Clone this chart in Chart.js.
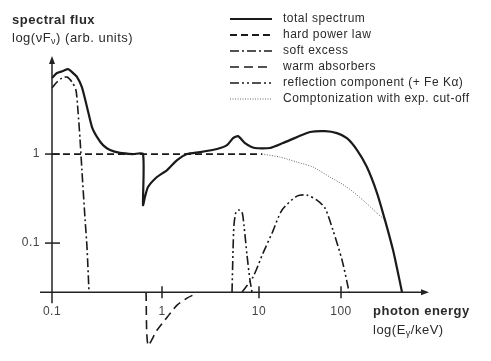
<!DOCTYPE html>
<html>
<head>
<meta charset="utf-8">
<script src="https://cdn.jsdelivr.net/npm/chart.js@4.4.1/dist/chart.umd.min.js"></script>
<style>
    html, body { margin: 0; padding: 0; background: #ffffff; }
    #grafico { display: block; }
</style>
</head>
<body>
<canvas id="grafico" width="491" height="361"></canvas>
<script>
// ==========================================
// DATA (photon energy in keV, flux in arb. units)
// ==========================================
const tickEnergies = [0.1, 1, 10, 100];
const tickLabels = ['0.1', '1', '10', '100'];
const fluxTicks = [1, 0.1];
const fluxTickLabels = ['1', '0.1'];
const baselineFlux = 0.0281;   // level where the energy axis is drawn

const legendLabels = [
    'total spectrum',
    'hard power law',
    'soft excess',
    'warm absorbers',
    'reflection component (+ Fe K\u03b1)',
    'Comptonization with exp. cut-off'
];

const totalEnergy = [0.1, 0.111, 0.126, 0.14, 0.152, 0.169, 0.187, 0.208, 0.231, 0.257, 0.291, 0.337, 0.415, 0.545, 0.672,
    0.672, 0.70, 0.746, 0.90, 1.13, 1.43, 1.81, 2.46, 3.69, 4.68, 5.40, 6.08, 7.17, 9.10, 13.6, 19.6, 29.0, 41.9, 63.8,
    89.3, 118, 157, 207, 275, 344, 431, 496, 555];
const totalFlux = [7.14, 8.13, 8.57, 9.02, 8.34, 7.33, 5.66, 3.38, 2.01, 1.55, 1.26, 1.11, 1.03, 1.0, 1.0,
    0.267, 0.329, 0.426, 0.552, 0.661, 0.856, 1.0, 1.05, 1.14, 1.26, 1.51, 1.59, 1.33, 1.17, 1.17, 1.33, 1.55, 1.77, 1.81,
    1.72, 1.51, 1.11, 0.714, 0.365, 0.181, 0.0834, 0.046, 0.0281];

const powerLawEnergy = [0.1, 10.9];
const powerLawFlux = [1, 1];

const softEnergy = [0.1, 0.111, 0.123, 0.137, 0.152, 0.165, 0.172, 0.18, 0.187, 0.20, 0.208, 0.217];
const softFlux = [5.52, 6.44, 7.14, 7.33, 6.44, 5.24, 3.12, 1.44, 0.661, 0.181, 0.0902, 0.0281];

const warmEnergy = [0.716, 0.746, 0.90, 1.13, 1.43, 1.81, 2.19];
const warmFlux = [0.0281, 0.00714, 0.0105, 0.0147, 0.0201, 0.0241, 0.0267];

// Fe K-alpha line, then (after a break) the Compton reflection hump
const reflEnergy = [5.27, 5.40, 5.52, 5.79, 6.22, 6.68, 7.0, 7.52, 8.07, 8.47, 8.47,
    6.68, 8.67, 11.2, 14.4, 19.1, 29.0, 38.5, 50.9, 63.8, 79.7, 103, 122, 125];
const reflFlux = [0.0281, 0.0834, 0.159, 0.223, 0.235, 0.223, 0.159, 0.0733, 0.0384, 0.0281, null,
    0.0281, 0.0415, 0.0772, 0.129, 0.235, 0.337, 0.346, 0.304, 0.247, 0.140, 0.0644, 0.0320, 0.0281];

const comptEnergy = [10.9, 18.0, 29.0, 45.6, 73.5, 118, 185, 275, 344];
const comptFlux = [1.0, 0.925, 0.813, 0.714, 0.551, 0.426, 0.304, 0.217, 0.181];

// ==========================================
// ENERGY AXIS: hand-drawn log axis, decades are not equally wide
// ==========================================
const decadeWidths = [110, 97, 82];   // 0.1-1, 1-10, 10-100 (beyond: last width)
const axisSpan = 375;

function warp(e) {
    const l = Math.log10(e) + 1;
    const i = Math.max(0, Math.min(decadeWidths.length - 1, Math.floor(l)));
    let u = 0;
    for (let k = 0; k < i; k++) u += decadeWidths[k];
    return u + (l - i) * decadeWidths[i];
}

function unwarp(u) {
    let i = 0;
    let start = 0;
    while (i < decadeWidths.length - 1 && u > start + decadeWidths[i]) {
        start += decadeWidths[i];
        i++;
    }
    return Math.pow(10, i + (u - start) / decadeWidths[i] - 1);
}

class SchematicLogScale extends Chart.LinearScale {
    determineDataLimits() {
        this.min = 0;
        this.max = axisSpan;
    }
    buildTicks() {
        return tickEnergies.map(value => ({ value }));
    }
    getPixelForValue(value) {
        return this.getPixelForDecimal(warp(value) / axisSpan);
    }
    getValueForPixel(pixel) {
        return unwarp(this.getDecimalForPixel(pixel) * axisSpan);
    }
}
SchematicLogScale.id = 'schematicLog';
SchematicLogScale.defaults = Chart.LinearScale.defaults;
Chart.register(SchematicLogScale);

function pontos(xs, ys) {
    return xs.map((x, i) => ({ x: x, y: ys[i] }));
}

const FONTE = "'Liberation Sans', Arial, sans-serif";
const TEXTO = '#2a2a2a';

// ==========================================
// AXES, TICKS, TITLES AND LEGEND (drawn like the original sketch)
// ==========================================
const eixosEsboco = {
    id: 'eixosEsboco',
    afterDraw(chart) {
        const { ctx, chartArea } = chart;
        const x = chart.scales.x;
        const y = chart.scales.y;
        const x0 = x.getPixelForValue(tickEnergies[0]);
        const yBase = y.getPixelForValue(baselineFlux);
        const xEnd = chartArea.right;

        ctx.save();
        ctx.strokeStyle = '#222222';
        ctx.fillStyle = '#222222';
        ctx.lineWidth = 1.5;
        ctx.setLineDash([]);

        // y axis with arrow
        ctx.beginPath();
        ctx.moveTo(x0, chartArea.top + 4);
        ctx.lineTo(x0, yBase + 11);
        ctx.stroke();
        ctx.beginPath();
        ctx.moveTo(x0, chartArea.top - 2);
        ctx.lineTo(x0 - 3, chartArea.top + 6);
        ctx.lineTo(x0 + 3, chartArea.top + 6);
        ctx.closePath();
        ctx.fill();

        // x axis with arrow
        ctx.beginPath();
        ctx.moveTo(x0 - 12, yBase);
        ctx.lineTo(xEnd - 4, yBase);
        ctx.stroke();
        ctx.beginPath();
        ctx.moveTo(xEnd + 2, yBase);
        ctx.lineTo(xEnd - 6, yBase - 3);
        ctx.lineTo(xEnd - 6, yBase + 3);
        ctx.closePath();
        ctx.fill();

        // tick marks
        tickEnergies.slice(1).forEach(e => {
            const px = x.getPixelForValue(e);
            ctx.beginPath();
            ctx.moveTo(px, yBase - 6);
            ctx.lineTo(px, yBase + 6);
            ctx.stroke();
        });
        fluxTicks.forEach(f => {
            const py = y.getPixelForValue(f);
            ctx.beginPath();
            ctx.moveTo(x0 - 7, py);
            ctx.lineTo(x0 + 8, py);
            ctx.stroke();
        });

        ctx.letterSpacing = '0.5px';

        // tick labels
        ctx.fillStyle = '#444444';
        ctx.font = '12px ' + FONTE;
        ctx.textBaseline = 'middle';
        ctx.textAlign = 'center';
        tickEnergies.forEach((e, i) => {
            ctx.fillText(tickLabels[i], x.getPixelForValue(e), yBase + 20);
        });
        ctx.textAlign = 'right';
        fluxTicks.forEach((f, i) => {
            ctx.fillText(fluxTickLabels[i], x0 - 12, y.getPixelForValue(f));
        });

        // axis titles
        ctx.textAlign = 'left';
        ctx.fillStyle = TEXTO;
        ctx.font = 'bold 13px ' + FONTE;
        ctx.fillText('spectral flux', 12, 20);
        ctx.fillText('photon energy', 373, 311);

        ctx.font = '13px ' + FONTE;
        textoComIndice(ctx, ['log(\u03bdF', '\u03bd', ') (arb. units)'], 12, 38);
        textoComIndice(ctx, ['log(E', '\u03b3', '/keV)'], 373, 330);

        // legend
        chart.data.datasets.forEach((ds, i) => {
            const ly = 19 + i * 16;
            ctx.strokeStyle = ds.borderColor;
            ctx.lineWidth = Math.min(ds.borderWidth, 1.8);
            ctx.setLineDash(ds.borderDash || []);
            ctx.beginPath();
            ctx.moveTo(230, ly);
            ctx.lineTo(272, ly);
            ctx.stroke();
            ctx.setLineDash([]);
            ctx.fillStyle = TEXTO;
            ctx.font = '12px ' + FONTE;
            ctx.fillText(ds.label, 283, ly);
        });
        ctx.restore();
    }
};

// draws "main sub main" with the middle part as a subscript
function textoComIndice(ctx, partes, x, y) {
    const base = ctx.font;
    ctx.fillText(partes[0], x, y);
    let cx = x + ctx.measureText(partes[0]).width;
    ctx.font = base.replace(/[\d.]+px/, '9px');
    ctx.fillText(partes[1], cx, y + 4);
    cx += ctx.measureText(partes[1]).width;
    ctx.font = base;
    ctx.fillText(partes[2], cx, y);
}

function serie(label, xs, ys, estilo) {
    return Object.assign({
        label: label,
        data: pontos(xs, ys),
        borderColor: '#1a1a1a',
        borderWidth: 1.8,
        pointRadius: 0,
        tension: 0.25,
        fill: false,
        spanGaps: false
    }, estilo);
}

new Chart(document.getElementById('grafico').getContext('2d'), {
    type: 'line',
    data: {
        datasets: [
            serie(legendLabels[0], totalEnergy, totalFlux, { borderWidth: 2.2, tension: 0.2 }),
            serie(legendLabels[1], powerLawEnergy, powerLawFlux, { borderDash: [7, 4], tension: 0 }),
            serie(legendLabels[2], softEnergy, softFlux, { borderDash: [9, 3, 2, 3], borderWidth: 1.6 }),
            serie(legendLabels[3], warmEnergy, warmFlux, { borderDash: [9, 5], borderWidth: 1.6 }),
            serie(legendLabels[4], reflEnergy, reflFlux, { borderDash: [9, 3, 2, 3, 2, 3], borderWidth: 1.6 }),
            serie(legendLabels[5], comptEnergy, comptFlux, { borderColor: '#666666', borderWidth: 1, borderDash: [1, 1.5] })
        ]
    },
    options: {
        responsive: false,
        animation: false,
        events: [],
        layout: { padding: { left: 52, right: 64, top: 58, bottom: 14 } },
        plugins: {
            legend: { display: false },
            tooltip: { enabled: false }
        },
        scales: {
            x: { type: 'schematicLog', display: false },
            y: { type: 'logarithmic', display: false, min: 0.0068, max: 12 }
        }
    },
    plugins: [eixosEsboco]
});
</script>
</body>
</html>
